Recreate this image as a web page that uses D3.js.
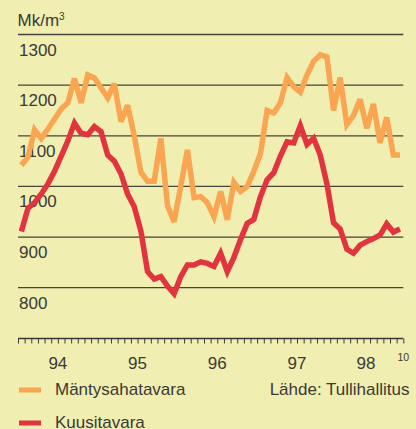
<!DOCTYPE html>
<html>
<head>
<meta charset="utf-8">
<script src="https://cdn.jsdelivr.net/npm/d3@7"></script>
<style>
	body { margin: 0; background: #f0eeb0; }
	svg { display: block; font-family: "Liberation Sans", Arial, sans-serif; }
	.grid-line { stroke: #45453c; stroke-width: 1.3; }
	.lbl { fill: #3a3a36; }
</style>
</head>
<body>
<script>
// monthly values, Jan 1994 .. Oct 1998
var startYear = 1994;
var years = ["94", "95", "96", "97", "98"];
var yTicks = [800, 900, 1000, 1100, 1200, 1300];

var mantysahatavara = [
	1042, 1058, 1112, 1095, 1113, 1133, 1153, 1165, 1213, 1165, 1220, 1214,
	1195, 1175, 1203, 1128, 1160, 1100, 1028, 1010, 1010, 1095, 962, 930,
	1001, 1072, 978, 980, 968, 940, 990, 934, 1008, 990, 1000, 1030,
	1065, 1150, 1145, 1165, 1215, 1197, 1186, 1220, 1247, 1260, 1256, 1150,
	1215, 1122, 1140, 1172, 1115, 1163, 1086, 1136, 1062, 1062
];
var kuusitavara = [
	911, 957, 968, 985, 1005, 1030, 1060, 1090, 1125, 1105, 1102, 1118,
	1108, 1062, 1050, 1025, 985, 960, 912, 832, 817, 822, 803, 788,
	822, 845, 845, 851, 848, 842, 868, 832, 860, 895, 927, 935,
	980, 1013, 1027, 1060, 1088, 1086, 1120, 1083, 1095, 1062, 1005, 928,
	916, 876, 868, 884, 891, 897, 904, 926, 910, 916
];
var seriesNames = ["Mäntysahatavara", "Kuusitavara"];
var colours = ["#f9a552", "#e2343e"];

var W = 416, H = 429;
var fs = "17px";
var svg = d3.select("body").append("svg")
	.attr("width", W)
	.attr("height", H);

var nMonths = mantysahatavara.length;

var x = d3.scaleLinear()
	.domain([0, nMonths])
	.range([18, 403.3]);

var y = d3.scaleLinear()
	.domain([800, 1300])
	.range([287.7, 34.5]);

// grid + value labels (label sits under its line)
svg.append("g").selectAll("line")
	.data(yTicks)
	.enter().append("line")
	.attr("class", "grid-line")
	.attr("x1", x(0))
	.attr("x2", x(nMonths))
	.attr("y1", d => y(d))
	.attr("y2", d => y(d));

svg.append("g").selectAll("text")
	.data(yTicks)
	.enter().append("text")
	.attr("class", "lbl")
	.attr("x", 19)
	.attr("y", d => y(d) + 21)
	.style("font-size", fs)
	.text(d => d);

var unit = svg.append("text")
	.attr("class", "lbl")
	.attr("x", 17.5)
	.attr("y", 25.5)
	.style("font-size", fs)
	.text("Mk/m");
unit.append("tspan")
	.attr("dy", -6)
	.style("font-size", "10px")
	.text("3");

// month axis
var xAxis = d3.axisBottom(x)
	.tickValues(d3.range(0, nMonths + 1))
	.tickSize(5)
	.tickFormat("");

var xAxisElem = svg.append("g")
	.attr("transform", "translate(0,338.5)")
	.call(xAxis);
xAxisElem.select(".domain").attr("stroke", "#3a3a36").attr("stroke-width", 1.5).attr("d", "M" + x(0) + ",0H" + x(nMonths));
xAxisElem.selectAll(".tick line").attr("stroke", "#3a3a36").attr("stroke-width", 1);

svg.append("g").selectAll("text")
	.data(years)
	.enter().append("text")
	.attr("class", "lbl")
	.attr("text-anchor", "middle")
	.attr("x", (d, i) => {
		var a = i * 12, b = Math.min(a + 12, nMonths);
		return x((a + b) / 2) - (b - a < 12 ? 4 : 0);
	})
	.attr("y", 368.5)
	.style("font-size", fs)
	.text(d => d);

svg.append("text")
	.attr("class", "lbl")
	.attr("text-anchor", "middle")
	.attr("x", x(nMonths))
	.attr("y", 360.5)
	.style("font-size", "10.5px")
	.text(String((nMonths - 1) % 12 + 1));

// series
var line = d3.line()
	.x((d, i) => x(i + 0.5))
	.y(d => y(d))
	.curve(d3.curveLinear);

svg.append("g").selectAll("path")
	.data([mantysahatavara, kuusitavara])
	.enter().append("path")
	.attr("d", d => line(d))
	.attr("fill", "none")
	.attr("stroke", (d, i) => colours[i])
	.attr("stroke-width", 5.5)
	.attr("stroke-linejoin", "miter")
	.attr("stroke-miterlimit", 3);

// legend
var legend = svg.append("g").selectAll("g")
	.data(seriesNames)
	.enter().append("g")
	.attr("transform", (d, i) => "translate(0," + (390 + i * 33) + ")");
legend.append("rect")
	.attr("x", 19)
	.attr("y", -2.5)
	.attr("width", 22)
	.attr("height", 5)
	.attr("fill", (d, i) => colours[i]);
legend.append("text")
	.attr("class", "lbl")
	.attr("x", 55)
	.attr("y", 5)
	.style("font-size", fs)
	.text(d => d);

svg.append("text")
	.attr("class", "lbl")
	.attr("text-anchor", "end")
	.attr("x", 409.5)
	.attr("y", 395)
	.style("font-size", fs)
	.text("Lähde: Tullihallitus");
</script>
</body>
</html>
